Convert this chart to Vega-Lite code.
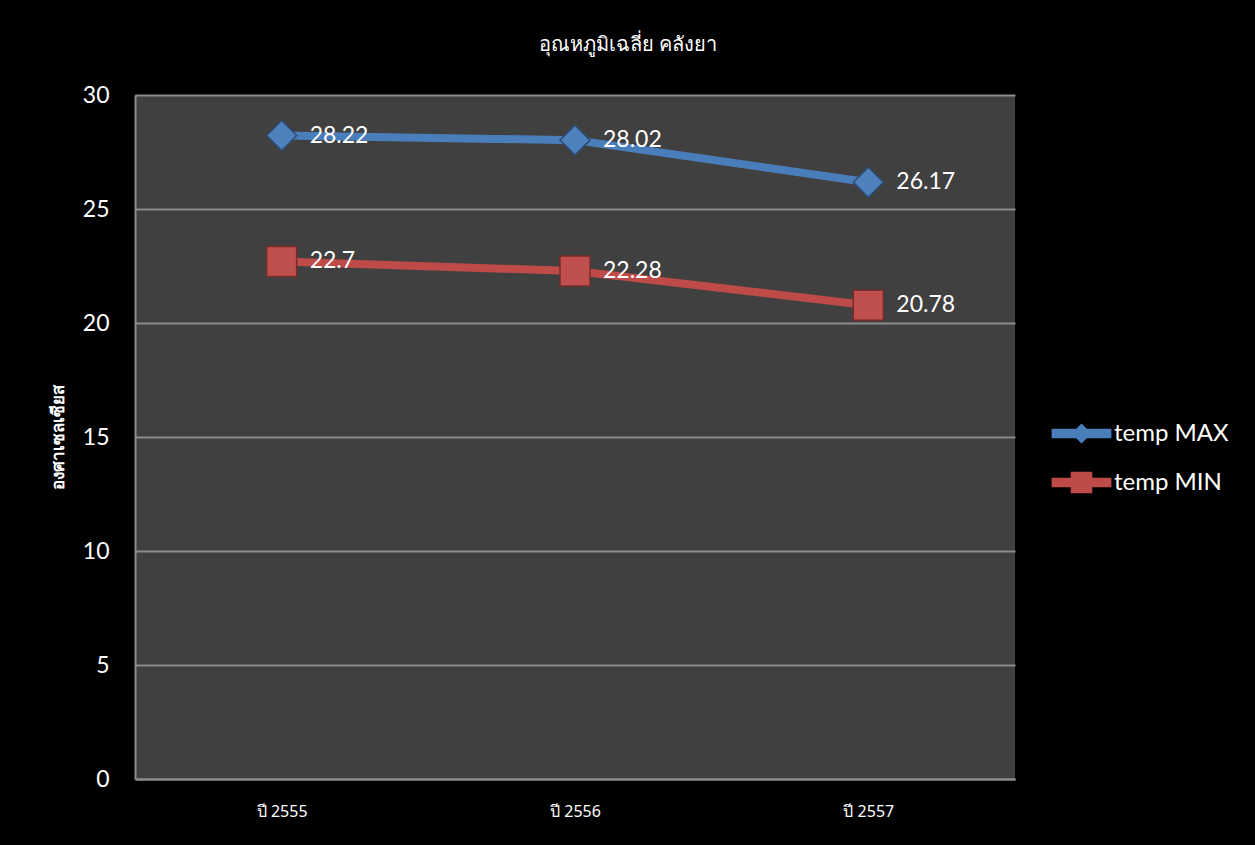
{
  "$schema": "https://vega.github.io/schema/vega-lite/v6.json",
  "autosize": {"type": "none"},
  "width": 880,
  "height": 684,
  "padding": {"left": 135, "top": 95, "right": 240, "bottom": 66},
  "background": "#000000",
  "title": {"text": "อุณหภูมิเฉลี่ย คลังยา", "fontSize": 20, "fontWeight": "normal", "color": "#ffffff", "font": "Noto Sans", "offset": 29, "dx": 53},
  "config": {
    "view": {"fill": "#404040", "stroke": null},
    "font": "Lato",
    "legend": {"title": null, "orient": "none", "padding": 0, "symbolSize": 2401, "rowPadding": 0, "labelOffset": 8, "labelFontSize": 24, "labelColor": "#ffffff", "labelFont": "Lato", "symbolStrokeWidth": 0, "symbolOpacity": 1}
  },
  "data": {
    "values": [
      {"year": "ปี 2555", "series": "temp MAX", "value": 28.22},
      {"year": "ปี 2556", "series": "temp MAX", "value": 28.02},
      {"year": "ปี 2557", "series": "temp MAX", "value": 26.17},
      {"year": "ปี 2555", "series": "temp MIN", "value": 22.7},
      {"year": "ปี 2556", "series": "temp MIN", "value": 22.28},
      {"year": "ปี 2557", "series": "temp MIN", "value": 20.78}
    ]
  },
  "encoding": {
    "x": {
      "field": "year", "type": "nominal", "sort": null,
      "axis": {"title": null, "labelAngle": 0, "labelFontSize": 16, "labelColor": "#ffffff", "labelFont": "Noto Sans", "ticks": false, "tickSize": 0, "labelPadding": 24, "domainColor": "#8c8c8c", "domainWidth": 2, "grid": false}
    },
    "y": {
      "field": "value", "type": "quantitative",
      "scale": {"domain": [0, 30], "nice": false},
      "axis": {"title": "องศาเซลเซียส", "titleFont": "Noto Sans", "titleFontSize": 17, "titleFontWeight": "bold", "titleColor": "#ffffff", "titleAngle": -90, "titleX": -77, "titleY": 342, "titleAlign": "center", "titleBaseline": "middle", "values": [0, 5, 10, 15, 20, 25, 30], "labelFontSize": 23, "labelColor": "#ffffff", "ticks": false, "tickSize": 0, "labelPadding": 26, "domainColor": "#8c8c8c", "domainWidth": 2, "gridColor": "#8c8c8c", "gridWidth": 2}
    }
  },
  "layer": [
    {
      "transform": [{"filter": "datum.series === 'temp MAX'"}],
      "encoding": {
        "color": {
          "field": "series", "type": "nominal",
          "scale": {"range": ["#4a7ebb"]},
          "legend": {"legendX": 922, "legendY": 314, "symbolFillColor": "#4a7ebb", "symbolType": "M-1.22,-0.19L1.22,-0.19L1.22,0.19L-1.22,0.19Z M0,-0.41L0.41,0L0,0.41L-0.41,0Z"}
        }
      },
      "layer": [
        {"mark": {"type": "line", "strokeWidth": 8, "strokeCap": "round"}},
        {"mark": {"type": "point", "shape": "diamond", "filled": true, "opacity": 1, "size": 900, "strokeWidth": 1.5, "stroke": "#2c4d75", "fill": "#4f81bd"}},
        {
          "mark": {"type": "text", "align": "left", "baseline": "middle", "dx": 28, "fontSize": 23, "font": "Lato"},
          "encoding": {"text": {"field": "value", "type": "quantitative"}, "color": {"value": "#ffffff"}}
        }
      ]
    },
    {
      "transform": [{"filter": "datum.series === 'temp MIN'"}],
      "encoding": {
        "color": {
          "field": "series", "type": "nominal",
          "scale": {"range": ["#be4b48"]},
          "legend": {"legendX": 922, "legendY": 363, "symbolFillColor": "#be4b48", "symbolType": "M-1.22,-0.19L1.22,-0.19L1.22,0.19L-1.22,0.19Z M-0.44,-0.44L0.44,-0.44L0.44,0.44L-0.44,0.44Z"}
        }
      },
      "layer": [
        {"mark": {"type": "line", "strokeWidth": 8, "strokeCap": "round"}},
        {"mark": {"type": "point", "shape": "square", "filled": true, "opacity": 1, "size": 900, "strokeWidth": 1.5, "stroke": "#772c2a", "fill": "#c0504d"}},
        {
          "mark": {"type": "text", "align": "left", "baseline": "middle", "dx": 28, "fontSize": 23, "font": "Lato"},
          "encoding": {"text": {"field": "value", "type": "quantitative"}, "color": {"value": "#ffffff"}}
        }
      ]
    }
  ],
  "resolve": {"scale": {"color": "independent"}, "legend": {"color": "independent"}}
}
